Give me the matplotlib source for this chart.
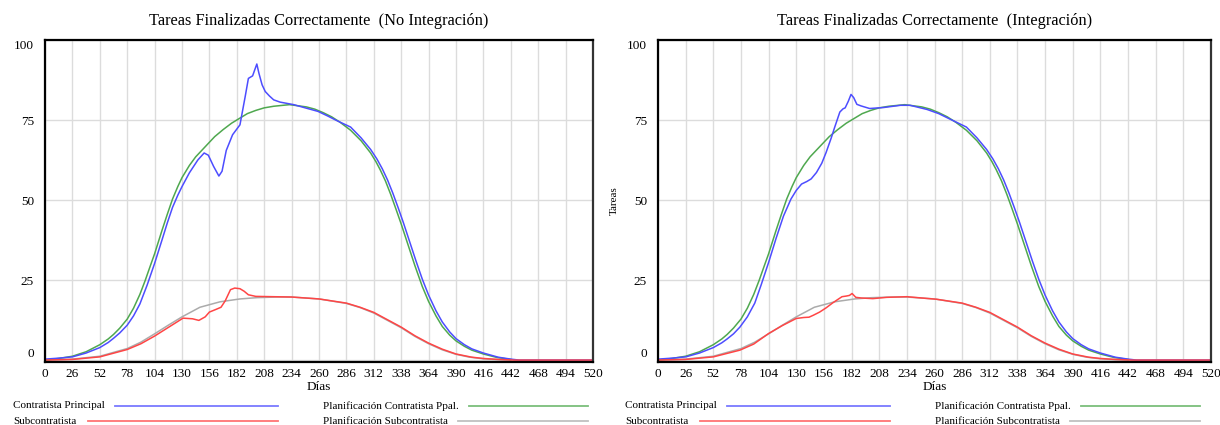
import matplotlib
matplotlib.use('Agg')
import matplotlib.pyplot as plt
from matplotlib.lines import Line2D

plt.rcParams['font.family'] = ['Liberation Serif', 'DejaVu Serif']

# Planned curves (same plan in both charts)
plan_ppal_days = [0, 13, 26, 39, 52, 60, 65, 71, 78, 84, 90, 95, 100, 104, 111, 116, 121, 126, 130,
                  137, 143, 153, 161, 169, 177, 185, 192, 200, 208, 217, 232, 248, 256, 264, 272,
                  280, 290, 300, 309, 314, 318, 323, 328, 333, 338, 345, 351, 358, 364, 371, 377,
                  384, 390, 398, 405, 416, 429, 442]
plan_ppal = [0, 0.5, 1.2, 2.6, 4.8, 6.6, 8.0, 10, 12.8, 16.2, 20.5, 24.8, 29.5, 33.2, 40.5, 45.5,
             50.3, 54.2, 57, 60.8, 63.5, 67, 69.8, 72, 74, 75.6, 77, 78, 78.8, 79.3, 79.8, 79.1,
             78.4, 77.3, 76, 74.3, 71.8, 68.5, 64.7, 62, 59.5, 56, 51.8, 47.2, 42.5, 35.5, 29.5,
             23, 18.3, 13.8, 10.5, 7.8, 6, 4.3, 3.1, 1.9, 0.8, 0.2]

plan_sub_days = [0, 26, 52, 78, 91, 104, 117, 130, 147, 166, 185, 201, 220, 234, 260, 286, 299,
                 312, 325, 338, 351, 364, 377, 390, 403, 416, 429, 442]
plan_sub = [0, 0.3, 1.2, 3.6, 5.6, 8.2, 10.9, 13.5, 16.5, 18.2, 19.1, 19.5, 19.7, 19.7, 19.1,
            17.7, 16.4, 14.7, 12.4, 10.1, 7.4, 5.1, 3.2, 1.8, 0.9, 0.4, 0.15, 0]

# No Integración
noint_ppal_days = [0, 13, 26, 39, 52, 60, 65, 71, 78, 84, 90, 97, 104, 111, 116, 121, 126, 130,
                   137, 145, 151, 155, 160, 165, 168, 172, 178, 185, 190, 193, 197, 201, 203, 206,
                   209, 213, 217, 223, 236, 248, 259, 268, 277, 290, 300, 309, 315, 320, 325, 330,
                   335, 340, 347, 352, 358, 364, 371, 377, 384, 390, 398, 405, 416, 430, 442, 450,
                   520]
noint_ppal = [0.3, 0.6, 1.0, 2.2, 3.9, 5.5, 6.8, 8.5, 10.9, 13.8, 17.5, 23.5, 30.2, 37.5, 42.8,
              47.7, 51.5, 54.2, 58.5, 62.5, 64.7, 64, 60.5, 57.5, 59, 65.5, 70.4, 73.5, 82.4, 88,
              88.8, 92.5, 89.6, 86, 83.9, 82.5, 81.3, 80.6, 79.8, 78.7, 77.7, 76.3, 74.8, 72.8,
              69.4, 65.8, 62.8, 59.8, 56.3, 52.2, 47.7, 43, 36, 31, 25.3, 20.3, 15.4, 11.9, 8.8,
              6.7, 4.8, 3.5, 2.2, 0.9, 0.3, 0, 0]

noint_sub_days = [0, 26, 52, 78, 91, 104, 117, 131, 140, 146, 152, 156, 162, 167, 171, 176, 180,
                  185, 189, 193, 200, 234, 260, 286, 299, 312, 325, 338, 351, 364, 377, 390, 405,
                  416, 430, 445, 520]
noint_sub = [0, 0.2, 1.0, 3.3, 5.1, 7.5, 10.2, 13.1, 12.9, 12.4, 13.5, 15.0, 15.8, 16.5, 18.5,
             22.0, 22.5, 22.3, 21.5, 20.4, 19.9, 19.7, 19.1, 17.8, 16.5, 14.9, 12.6, 10.3, 7.6,
             5.3, 3.4, 1.9, 0.9, 0.5, 0.2, 0, 0]

# Integración
int_ppal_days = [0, 13, 26, 39, 52, 60, 65, 71, 77, 84, 91, 97, 104, 111, 118, 125, 130, 135, 140,
                 144, 149, 154, 158, 163, 166, 171, 174, 176, 179, 181.5, 184, 187, 191, 199, 212,
                 228, 237, 253, 264, 272, 290, 300, 309, 315, 320, 325, 330, 335, 340, 347, 352,
                 358, 364, 371, 377, 384, 390, 398, 405, 416, 430, 442, 450, 520]
int_ppal = [0.3, 0.6, 1.0, 2.2, 3.9, 5.4, 6.6, 8.2, 10.3, 13.5, 17.8, 23.5, 30.5, 38, 45, 50.3,
            53, 55, 55.8, 56.6, 58.6, 61.5, 64.8, 69.5, 72.6, 77.5, 78.5, 78.8, 80.9, 83, 82,
            79.9, 79.4, 78.6, 78.9, 79.6, 79.6, 78.3, 77, 75.7, 72.8, 69.4, 65.8, 62.8, 59.8,
            56.3, 52.2, 47.7, 43, 36, 31, 25.3, 20.3, 15.4, 11.9, 8.8, 6.7, 4.8, 3.5, 2.2, 0.9,
            0.3, 0, 0]

int_sub_days = [0, 26, 52, 77, 90, 104, 117, 130, 137, 142, 146, 152, 158, 164, 168, 173, 177,
                180, 182.5, 186, 191, 202, 215, 234, 262, 286, 299, 312, 325, 338, 351, 364, 377,
                390, 405, 416, 430, 445, 520]
int_sub = [0, 0.2, 1.0, 3.1, 5.0, 8.3, 10.8, 13.0, 13.3, 13.4, 14.0, 15.0, 16.3, 17.8, 18.7,
           19.8, 20.0, 20.2, 20.8, 19.6, 19.4, 19.2, 19.6, 19.8, 19.0, 17.8, 16.5, 14.9, 12.6,
           10.3, 7.6, 5.3, 3.4, 1.9, 0.9, 0.5, 0.2, 0, 0]

xticks = list(range(0, 521, 26))
yticks = [0, 25, 50, 75, 100]

c_ppal = '#4d4dff'
c_sub = '#ff4545'
c_plan_ppal = '#4fa84f'
c_plan_sub = '#ababab'

fig = plt.figure(figsize=(12.2, 4.25), dpi=100)
ax1 = fig.add_axes([45 / 1220, 63 / 425, 548 / 1220, 322 / 425])
ax2 = fig.add_axes([658 / 1220, 63 / 425, 553 / 1220, 322 / 425])


def draw(ax, title, ppal_d, ppal, sub_d, sub):
    ax.plot(plan_sub_days, plan_sub, color=c_plan_sub, lw=1.1)
    ax.plot(plan_ppal_days, plan_ppal, color=c_plan_ppal, lw=1.1)
    ax.plot(ppal_d, ppal, color=c_ppal, lw=1.1)
    ax.plot(sub_d, sub, color=c_sub, lw=1.1)
    ax.set_xlim(0, 520)
    ax.set_ylim(-0.6, 100)
    ax.set_xticks(xticks)
    ax.set_yticks(yticks)
    ax.set_xticklabels([str(t) for t in xticks], fontsize=9.5)
    ax.set_yticklabels([str(t) for t in yticks], fontsize=9.5)
    ylabs = ax.get_yticklabels()
    ylabs[0].set_va('bottom')
    ylabs[-1].set_va('top')
    ax.tick_params(length=0, pad=4)
    ax.tick_params(axis='y', pad=8)
    ax.grid(True, color='#dcdcdc', lw=1)
    ax.set_axisbelow(True)
    for s in ax.spines.values():
        s.set_color('black')
        s.set_linewidth(1.6)
    ax.spines['right'].set_color('#333333')
    ax.set_title(title, fontsize=11.8, pad=11)
    ax.set_xlabel('Días', fontsize=9.5, labelpad=1)


draw(ax1, 'Tareas Finalizadas Correctamente  (No Integración)',
     noint_ppal_days, noint_ppal, noint_sub_days, noint_sub)
draw(ax2, 'Tareas Finalizadas Correctamente  (Integración)',
     int_ppal_days, int_ppal, int_sub_days, int_sub)
ax2.set_ylabel('Tareas', fontsize=8, labelpad=6)


# legends drawn under each chart, two columns
def legend_row(x_text, y, label, x0, x1, color):
    fig.text(x_text / 1220, y / 425, label, fontsize=8, va='center', ha='left')
    fig.add_artist(Line2D([x0 / 1220, x1 / 1220], [y / 425, y / 425], color=color, lw=1.3,
                          alpha=0.75, transform=fig.transFigure))


for off in (0, 612):
    legend_row(13 + off, 19, 'Contratista Principal', 115 + off, 278 + off, c_ppal)
    legend_row(13 + off, 4, 'Subcontratista', 88 + off, 278 + off, c_sub)
    legend_row(323 + off, 19, 'Planificación Contratista Ppal.', 469 + off, 588 + off, c_plan_ppal)
    legend_row(323 + off, 4, 'Planificación Subcontratista', 458 + off, 588 + off, c_plan_sub)

plt.savefig('out.png', dpi=100)
